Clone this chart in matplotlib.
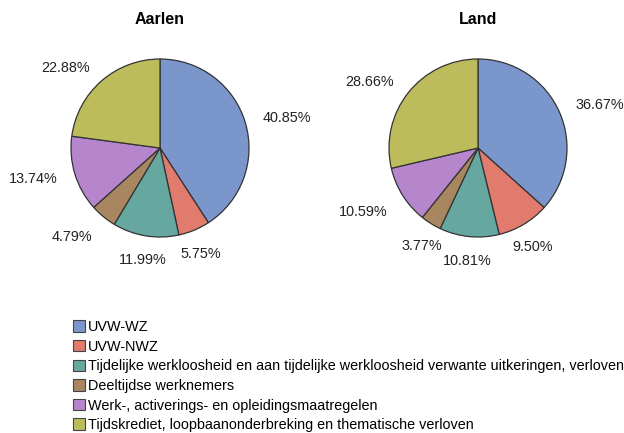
import numpy as np
import matplotlib
matplotlib.use("Agg")
import matplotlib.pyplot as plt
from matplotlib.patches import Patch

plt.rcParams['font.family'] = ['Liberation Sans', 'DejaVu Sans']

# --- Data ---
categories = [
    "UVW-WZ",
    "UVW-NWZ",
    "Tijdelijke werkloosheid en aan tijdelijke werkloosheid verwante uitkeringen, verloven",
    "Deeltijdse werknemers",
    "Werk-, activerings- en opleidingsmaatregelen",
    "Tijdskrediet, loopbaanonderbreking en thematische verloven",
]
aarlen = [40.85, 5.75, 11.99, 4.79, 13.74, 22.88]
land = [36.67, 9.50, 10.81, 3.77, 10.59, 28.66]
titles = ["Aarlen", "Land"]
colors = ["#7b96cb", "#e07b6e", "#66a8a0", "#a88660", "#b586cc", "#bcbc5c"]

fig = plt.figure(figsize=(6.24, 4.33), dpi=100)

W, H = 624, 433
r_px = 89
half = 1.5 * r_px
centers = [(160, 148), (478, 148)]

for (cx, cy), vals, title in zip(centers, [aarlen, land], titles):
    ax = fig.add_axes([(cx - half) / W, (H - cy - half) / H, 2 * half / W, 2 * half / H])
    labels = [f"{v:.2f}%" for v in vals]
    wedges, texts = ax.pie(vals, colors=colors, startangle=90, counterclock=False,
                           labels=labels, labeldistance=1.2,
                           wedgeprops=dict(edgecolor="#333333", linewidth=0.9),
                           textprops=dict(fontsize=10.4, color="#222222"))
    # labels near the bottom are centred under their slice and hang below the point
    for w, t in zip(wedges, texts):
        ang = np.deg2rad((w.theta1 + w.theta2) / 2)
        c, s = np.cos(ang), np.sin(ang)
        if abs(c) < 0.6:
            t.set_ha('center')
        if s < -0.5:
            t.set_va('top')
    ax.set_xlim(-1.5, 1.5)
    ax.set_ylim(-1.5, 1.5)
    ax.set_aspect('equal')
    ax.axis('off')
    fig.text(cx / W, 1 - 20 / H, title, ha='center', va='center',
             fontsize=11.5, fontweight='bold')

handles = [Patch(facecolor=c, edgecolor="#444444", linewidth=0.8) for c in colors]
fig.legend(handles, categories, loc='upper left', bbox_to_anchor=(73 / W, 1 - 320 / H),
           frameon=False, fontsize=10.4, handlelength=0.83, handleheight=0.83,
           handletextpad=0.2, labelspacing=0.39, borderaxespad=0, borderpad=0)

fig.savefig("out.png", dpi=100)
